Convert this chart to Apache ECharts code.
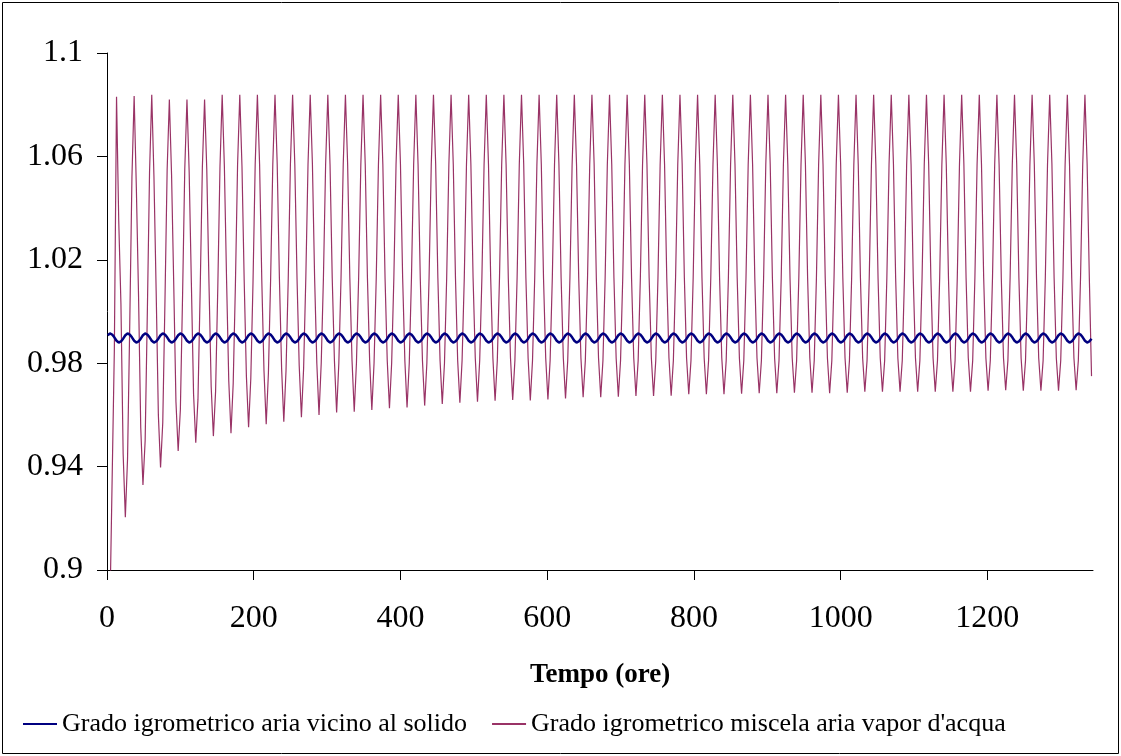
<!DOCTYPE html>
<html>
<head>
<meta charset="utf-8">
<script src="https://cdn.jsdelivr.net/npm/echarts@6.0.0/dist/echarts.min.js"></script>
<style>
    html, body { margin: 0; padding: 0; background: #fff; }
    #chart { width: 1121px; height: 756px; }
</style>
</head>
<body>
<div id="chart"></div>
<script>
// sampling grid (hours): first sample and step
const firstHour = 1
const stepHours = 3

const blueName = 'Grado igrometrico aria vicino al solido'
const pinkName = "Grado igrometrico miscela aria vapor d'acqua"

const xTicks = [0, 200, 400, 600, 800, 1000, 1200]
const yTicks = [0.9, 0.94, 0.98, 1.02, 1.06, 1.1]

// one row per day, hours +1 +4 +7 +10 +13 +16 +19 +22
const pinkValues = [
    0.870, 0.885, 0.935, 0.985, 1.0831, 1.035, 1.003, 0.945,
    0.9204, 0.943, 0.995, 1.052, 1.0834, 1.048, 1.006, 0.955,
    0.9329, 0.950, 1.000, 1.054, 1.0838, 1.052, 1.008, 0.960,
    0.9397, 0.957, 1.004, 1.055, 1.0820, 1.053, 1.010, 0.965,
    0.9460, 0.962, 1.006, 1.055, 1.0820, 1.054, 1.011, 0.968,
    0.9492, 0.966, 1.008, 1.056, 1.0820, 1.055, 1.011, 0.971,
    0.9518, 0.969, 1.009, 1.056, 1.0838, 1.056, 1.012, 0.973,
    0.9529, 0.972, 1.010, 1.057, 1.0838, 1.056, 1.012, 0.975,
    0.9552, 0.974, 1.011, 1.057, 1.0838, 1.057, 1.012, 0.977,
    0.9564, 0.976, 1.012, 1.057, 1.0838, 1.057, 1.013, 0.978,
    0.9574, 0.977, 1.012, 1.057, 1.0838, 1.057, 1.013, 0.979,
    0.9591, 0.978, 1.013, 1.057, 1.0838, 1.057, 1.013, 0.980,
    0.9600, 0.980, 1.013, 1.057, 1.0838, 1.057, 1.013, 0.981,
    0.9609, 0.980, 1.013, 1.057, 1.0838, 1.057, 1.013, 0.981,
    0.9612, 0.980, 1.013, 1.057, 1.0838, 1.057, 1.013, 0.981,
    0.9619, 0.980, 1.013, 1.057, 1.0838, 1.057, 1.013, 0.981,
    0.9626, 0.980, 1.013, 1.057, 1.0838, 1.057, 1.013, 0.981,
    0.9629, 0.980, 1.013, 1.057, 1.0838, 1.057, 1.013, 0.981,
    0.9636, 0.980, 1.013, 1.057, 1.0838, 1.057, 1.013, 0.981,
    0.9642, 0.980, 1.013, 1.057, 1.0838, 1.057, 1.013, 0.981,
    0.9647, 0.981, 1.013, 1.057, 1.0838, 1.057, 1.013, 0.982,
    0.9651, 0.981, 1.013, 1.057, 1.0838, 1.057, 1.013, 0.982,
    0.9655, 0.981, 1.013, 1.057, 1.0838, 1.057, 1.013, 0.982,
    0.9658, 0.981, 1.013, 1.057, 1.0838, 1.057, 1.013, 0.982,
    0.9656, 0.981, 1.013, 1.057, 1.0838, 1.057, 1.013, 0.982,
    0.9660, 0.981, 1.013, 1.057, 1.0838, 1.057, 1.013, 0.982,
    0.9664, 0.981, 1.013, 1.057, 1.0838, 1.057, 1.013, 0.982,
    0.9668, 0.981, 1.013, 1.057, 1.0838, 1.057, 1.013, 0.982,
    0.9668, 0.981, 1.013, 1.057, 1.0838, 1.057, 1.013, 0.982,
    0.9670, 0.981, 1.013, 1.057, 1.0838, 1.057, 1.013, 0.982,
    0.9673, 0.981, 1.013, 1.057, 1.0838, 1.057, 1.013, 0.982,
    0.9673, 0.981, 1.013, 1.057, 1.0838, 1.057, 1.013, 0.982,
    0.9674, 0.981, 1.013, 1.057, 1.0838, 1.057, 1.013, 0.982,
    0.9680, 0.981, 1.013, 1.057, 1.0838, 1.057, 1.013, 0.982,
    0.9680, 0.981, 1.013, 1.057, 1.0838, 1.057, 1.013, 0.982,
    0.9680, 0.981, 1.013, 1.057, 1.0838, 1.057, 1.013, 0.982,
    0.9682, 0.981, 1.013, 1.057, 1.0838, 1.057, 1.013, 0.982,
    0.9684, 0.981, 1.013, 1.057, 1.0838, 1.057, 1.013, 0.982,
    0.9684, 0.981, 1.013, 1.057, 1.0838, 1.057, 1.013, 0.982,
    0.9686, 0.981, 1.013, 1.057, 1.0838, 1.057, 1.013, 0.982,
    0.9686, 0.981, 1.013, 1.057, 1.0838, 1.057, 1.013, 0.982,
    0.9684, 0.981, 1.013, 1.057, 1.0838, 1.057, 1.013, 0.982,
    0.9686, 0.981, 1.013, 1.057, 1.0838, 1.057, 1.013, 0.982,
    0.9690, 0.981, 1.013, 1.057, 1.0838, 1.057, 1.013, 0.982,
    0.9690, 0.981, 1.013, 1.057, 1.0838, 1.057, 1.013, 0.982,
    0.9690, 0.981, 1.013, 1.057, 1.0838, 1.057, 1.013, 0.982,
    0.9690, 0.981, 1.013, 1.057, 1.0838, 1.057, 1.013, 0.982,
    0.9690, 0.981, 1.013, 1.057, 1.0838, 1.057, 1.013, 0.982,
    0.9690, 0.981, 1.013, 1.057, 1.0838, 1.057, 1.013, 0.982,
    0.9690, 0.981, 1.013, 1.057, 1.0838, 1.057, 1.013, 0.982,
    0.9694, 0.981, 1.013, 1.057, 1.0838, 1.057, 1.013, 0.982,
    0.9696, 0.981, 1.013, 1.057, 1.0838, 1.057, 1.013, 0.982,
    0.9694, 0.981, 1.013, 1.057, 1.0838, 1.057, 1.013, 0.982,
    0.9694, 0.981, 1.013, 1.057, 1.0838, 1.057, 1.013, 0.982,
    0.9694, 0.981, 1.013, 1.057, 1.0838, 1.057, 1.013, 0.982,
    0.9696, 0.981, 1.013, 1.057, 1.0838, 1.057, 1.013, 0.975
]

const blueValues = [
    0.9908, 0.9915, 0.9911, 0.9900, 0.9887, 0.9880, 0.9884, 0.9895,
    0.9908, 0.9915, 0.9911, 0.9900, 0.9887, 0.9880, 0.9884, 0.9895,
    0.9908, 0.9915, 0.9911, 0.9900, 0.9887, 0.9880, 0.9884, 0.9895,
    0.9908, 0.9915, 0.9911, 0.9900, 0.9887, 0.9880, 0.9884, 0.9895,
    0.9908, 0.9915, 0.9911, 0.9900, 0.9887, 0.9880, 0.9884, 0.9895,
    0.9908, 0.9915, 0.9911, 0.9900, 0.9887, 0.9880, 0.9884, 0.9895,
    0.9908, 0.9915, 0.9911, 0.9900, 0.9887, 0.9880, 0.9884, 0.9895,
    0.9908, 0.9915, 0.9911, 0.9900, 0.9887, 0.9880, 0.9884, 0.9895,
    0.9908, 0.9915, 0.9911, 0.9900, 0.9887, 0.9880, 0.9884, 0.9895,
    0.9908, 0.9915, 0.9911, 0.9900, 0.9887, 0.9880, 0.9884, 0.9895,
    0.9908, 0.9915, 0.9911, 0.9900, 0.9887, 0.9880, 0.9884, 0.9895,
    0.9908, 0.9915, 0.9911, 0.9900, 0.9887, 0.9880, 0.9884, 0.9895,
    0.9908, 0.9915, 0.9911, 0.9900, 0.9887, 0.9880, 0.9884, 0.9895,
    0.9908, 0.9915, 0.9911, 0.9900, 0.9887, 0.9880, 0.9884, 0.9895,
    0.9908, 0.9915, 0.9911, 0.9900, 0.9887, 0.9880, 0.9884, 0.9895,
    0.9908, 0.9915, 0.9911, 0.9900, 0.9887, 0.9880, 0.9884, 0.9895,
    0.9908, 0.9915, 0.9911, 0.9900, 0.9887, 0.9880, 0.9884, 0.9895,
    0.9908, 0.9915, 0.9911, 0.9900, 0.9887, 0.9880, 0.9884, 0.9895,
    0.9908, 0.9915, 0.9911, 0.9900, 0.9887, 0.9880, 0.9884, 0.9895,
    0.9908, 0.9915, 0.9911, 0.9900, 0.9887, 0.9880, 0.9884, 0.9895,
    0.9908, 0.9915, 0.9911, 0.9900, 0.9887, 0.9880, 0.9884, 0.9895,
    0.9908, 0.9915, 0.9911, 0.9900, 0.9887, 0.9880, 0.9884, 0.9895,
    0.9908, 0.9915, 0.9911, 0.9900, 0.9887, 0.9880, 0.9884, 0.9895,
    0.9908, 0.9915, 0.9911, 0.9900, 0.9887, 0.9880, 0.9884, 0.9895,
    0.9908, 0.9915, 0.9911, 0.9900, 0.9887, 0.9880, 0.9884, 0.9895,
    0.9908, 0.9915, 0.9911, 0.9900, 0.9887, 0.9880, 0.9884, 0.9895,
    0.9908, 0.9915, 0.9911, 0.9900, 0.9887, 0.9880, 0.9884, 0.9895,
    0.9908, 0.9915, 0.9911, 0.9900, 0.9887, 0.9880, 0.9884, 0.9895,
    0.9908, 0.9915, 0.9911, 0.9900, 0.9887, 0.9880, 0.9884, 0.9895,
    0.9908, 0.9915, 0.9911, 0.9900, 0.9887, 0.9880, 0.9884, 0.9895,
    0.9908, 0.9915, 0.9911, 0.9900, 0.9887, 0.9880, 0.9884, 0.9895,
    0.9908, 0.9915, 0.9911, 0.9900, 0.9887, 0.9880, 0.9884, 0.9895,
    0.9908, 0.9915, 0.9911, 0.9900, 0.9887, 0.9880, 0.9884, 0.9895,
    0.9908, 0.9915, 0.9911, 0.9900, 0.9887, 0.9880, 0.9884, 0.9895,
    0.9908, 0.9915, 0.9911, 0.9900, 0.9887, 0.9880, 0.9884, 0.9895,
    0.9908, 0.9915, 0.9911, 0.9900, 0.9887, 0.9880, 0.9884, 0.9895,
    0.9908, 0.9915, 0.9911, 0.9900, 0.9887, 0.9880, 0.9884, 0.9895,
    0.9908, 0.9915, 0.9911, 0.9900, 0.9887, 0.9880, 0.9884, 0.9895,
    0.9908, 0.9915, 0.9911, 0.9900, 0.9887, 0.9880, 0.9884, 0.9895,
    0.9908, 0.9915, 0.9911, 0.9900, 0.9887, 0.9880, 0.9884, 0.9895,
    0.9908, 0.9915, 0.9911, 0.9900, 0.9887, 0.9880, 0.9884, 0.9895,
    0.9908, 0.9915, 0.9911, 0.9900, 0.9887, 0.9880, 0.9884, 0.9895,
    0.9908, 0.9915, 0.9911, 0.9900, 0.9887, 0.9880, 0.9884, 0.9895,
    0.9908, 0.9915, 0.9911, 0.9900, 0.9887, 0.9880, 0.9884, 0.9895,
    0.9908, 0.9915, 0.9911, 0.9900, 0.9887, 0.9880, 0.9884, 0.9895,
    0.9908, 0.9915, 0.9911, 0.9900, 0.9887, 0.9880, 0.9884, 0.9895,
    0.9908, 0.9915, 0.9911, 0.9900, 0.9887, 0.9880, 0.9884, 0.9895,
    0.9908, 0.9915, 0.9911, 0.9900, 0.9887, 0.9880, 0.9884, 0.9895,
    0.9908, 0.9915, 0.9911, 0.9900, 0.9887, 0.9880, 0.9884, 0.9895,
    0.9908, 0.9915, 0.9911, 0.9900, 0.9887, 0.9880, 0.9884, 0.9895,
    0.9908, 0.9915, 0.9911, 0.9900, 0.9887, 0.9880, 0.9884, 0.9895,
    0.9908, 0.9915, 0.9911, 0.9900, 0.9887, 0.9880, 0.9884, 0.9895,
    0.9908, 0.9915, 0.9911, 0.9900, 0.9887, 0.9880, 0.9884, 0.9895,
    0.9908, 0.9915, 0.9911, 0.9900, 0.9887, 0.9880, 0.9884, 0.9895,
    0.9908, 0.9915, 0.9911, 0.9900, 0.9887, 0.9880, 0.9884, 0.9895,
    0.9908, 0.9915, 0.9911, 0.9900, 0.9887, 0.9880, 0.9884, 0.9895
]

const serif = '"Liberation Serif", "Times New Roman", serif'

function toPairs(values) {
    return values.map((v, i) => [firstHour + i * stepHours, v])
}

const myChart = echarts.init(document.getElementById('chart'))

const option = {
    animation: false,
    backgroundColor: '#fff',
    textStyle: { fontFamily: serif, color: '#000' },
    grid: {
        left: 107,
        right: 28,
        top: 53,
        bottom: 186
    },
    // chart area frame
    graphic: [{
        type: 'rect',
        shape: { x: 2.5, y: 2.5, width: 1116, height: 751 },
        style: { fill: 'none', stroke: '#000', lineWidth: 1 },
        silent: true
    }],
    legend: {
        data: [blueName, pinkName],
        left: 17,
        top: 706,
        itemWidth: 34,
        itemHeight: 14,
        itemGap: 24,
        // hide the marker dot, keep only the line
        itemStyle: { opacity: 0 },
        textStyle: { fontFamily: serif, fontSize: 26, color: '#000' }
    },
    xAxis: {
        type: 'value',
        min: 0,
        max: 1344,
        name: 'Tempo (ore)',
        nameLocation: 'middle',
        nameGap: 92,
        nameTextStyle: { fontFamily: serif, fontSize: 27, fontWeight: 'bold', color: '#000' },
        axisLine: { lineStyle: { color: '#000', width: 1 } },
        axisTick: { show: true, length: 10, customValues: xTicks, lineStyle: { color: '#000' } },
        axisLabel: {
            customValues: xTicks,
            formatter: v => String(v),
            margin: 33,
            fontSize: 32,
            fontFamily: serif,
            color: '#000'
        },
        splitLine: { show: false }
    },
    yAxis: {
        type: 'value',
        min: 0.9,
        max: 1.1,
        axisLine: { show: true, lineStyle: { color: '#000', width: 1 } },
        axisTick: { show: true, length: 10, customValues: yTicks, lineStyle: { color: '#000' } },
        axisLabel: {
            customValues: yTicks,
            formatter: v => String(v),
            margin: 24,
            fontSize: 32,
            fontFamily: serif,
            color: '#000'
        },
        splitLine: { show: false }
    },
    series: [
        {
            name: pinkName,
            type: 'line',
            data: toPairs(pinkValues),
            symbol: 'none',
            z: 2,
            itemStyle: { color: '#993366' },
            lineStyle: { color: '#993366', width: 1.2 }
        },
        {
            name: blueName,
            type: 'line',
            data: toPairs(blueValues),
            symbol: 'none',
            z: 3,
            itemStyle: { color: '#000080' },
            lineStyle: { color: '#000080', width: 2.5 }
        }
    ]
}

myChart.setOption(option)
window.onresize = myChart.resize
</script>
</body>
</html>
